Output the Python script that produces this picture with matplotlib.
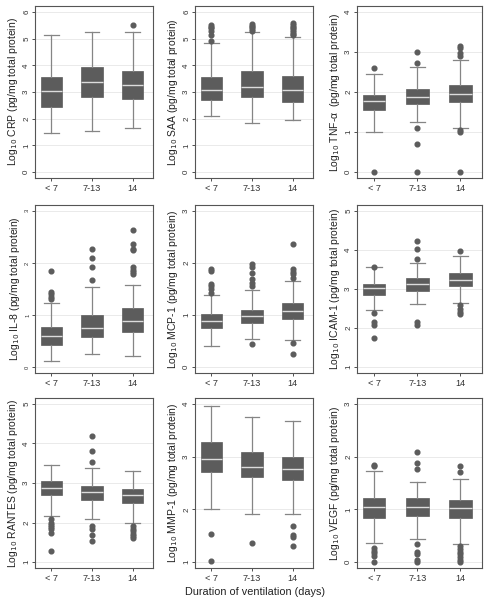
import matplotlib
matplotlib.use("Agg")
import matplotlib.pyplot as plt

# groups on the x axis
groups = ["< 7", "7-13", "14"]

# box stats per group: [whisker low, q1, median, q3, whisker high]
crp_box = [[1.48, 2.44, 3.03, 3.58, 5.12], [1.54, 2.82, 3.39, 3.92, 5.23], [1.64, 2.72, 3.26, 3.77, 5.23]]
crp_out = [[], [], [5.52]]

saa_box = [[2.11, 2.70, 3.06, 3.55, 4.83], [1.82, 2.82, 3.18, 3.79, 5.23], [1.95, 2.64, 3.06, 3.60, 5.06]]
saa_out = [[4.90, 5.12, 5.30, 5.38, 5.45, 5.52],
           [5.28, 5.35, 5.42, 5.48, 5.53],
           [5.12, 5.18, 5.25, 5.32, 5.38, 5.45, 5.52, 5.58]]

tnf_box = [[1.00, 1.56, 1.77, 1.93, 2.44], [1.24, 1.70, 1.87, 2.08, 2.62], [1.10, 1.75, 1.94, 2.18, 2.79]]
tnf_out = [[0.0, 2.59], [0.0, 0.71, 1.09, 2.72, 3.00], [0.0, 1.00, 1.06, 2.90, 2.97, 3.10, 3.15]]

il8_box = [[0.11, 0.43, 0.59, 0.78, 1.23], [0.25, 0.57, 0.75, 1.00, 1.54], [0.21, 0.67, 0.89, 1.13, 1.58]]
il8_out = [[1.30, 1.35, 1.40, 1.44, 1.84],
           [1.67, 1.93, 2.10, 2.27],
           [1.78, 1.82, 1.87, 1.93, 2.24, 2.27, 2.36, 2.64]]

mcp_box = [[0.41, 0.75, 0.88, 1.02, 1.38], [0.54, 0.84, 0.98, 1.10, 1.49], [0.53, 0.93, 1.07, 1.23, 1.65]]
mcp_out = [[1.43, 1.50, 1.55, 1.60, 1.84, 1.88],
           [0.45, 1.55, 1.62, 1.70, 1.80, 1.93, 1.97],
           [0.25, 0.47, 1.72, 1.78, 1.82, 1.88, 2.36]]

icam_box = [[2.46, 2.84, 3.03, 3.13, 3.55], [2.61, 2.96, 3.13, 3.28, 3.66], [2.65, 3.08, 3.22, 3.40, 3.84]]
icam_out = [[1.75, 2.08, 2.16, 2.39, 3.57], [2.08, 2.16, 3.76, 4.02, 4.24], [2.36, 2.42, 2.50, 2.60, 3.97]]

rantes_box = [[2.16, 2.69, 2.87, 3.04, 3.45], [2.10, 2.57, 2.78, 2.93, 3.37], [1.99, 2.50, 2.69, 2.85, 3.31]]
rantes_out = [[1.28, 1.73, 1.85, 1.90, 1.95, 2.00, 2.10],
              [1.53, 1.69, 1.84, 1.92, 3.54, 3.81, 4.20],
              [1.60, 1.65, 1.70, 1.78, 1.85, 1.92]]

mmp_box = [[2.01, 2.70, 2.95, 3.27, 3.96], [1.91, 2.61, 2.81, 3.08, 3.76], [1.91, 2.55, 2.77, 2.99, 3.67]]
mmp_out = [[1.03, 1.54], [1.37], [1.30, 1.47, 1.51, 1.69]]

vegf_box = [[0.37, 0.83, 1.04, 1.22, 1.72], [0.43, 0.87, 1.05, 1.22, 1.52], [0.35, 0.84, 1.03, 1.17, 1.58]]
vegf_out = [[0.0, 0.11, 0.17, 0.22, 0.27, 1.83, 1.85],
            [0.0, 0.05, 0.16, 0.20, 0.35, 1.77, 1.88, 2.09],
            [0.0, 0.05, 0.10, 0.15, 0.20, 0.25, 0.30, 1.71, 1.83]]

# one entry per panel: (box stats, outliers, marker name, y tick range)
panels = [
    (crp_box, crp_out, "CRP", (0, 6)),
    (saa_box, saa_out, "SAA", (0, 6)),
    (tnf_box, tnf_out, "TNF-\u03b1 ", (0, 4)),
    (il8_box, il8_out, "IL-8", (0, 3)),
    (mcp_box, mcp_out, "MCP-1", (0, 3)),
    (icam_box, icam_out, "ICAM-1", (1, 5)),
    (rantes_box, rantes_out, "RANTES", (1, 5)),
    (mmp_box, mmp_out, "MMP-1", (1, 4)),
    (vegf_box, vegf_out, "VEGF", (0, 3)),
]

plt.rcParams['font.family'] = ['Liberation Sans', 'DejaVu Sans']

W, H = 487, 599
fig = plt.figure(figsize=(W / 100, H / 100), dpi=100)

# pixel frames of the columns and rows
cols = [(35, 153), (195, 313), (357, 482)]
rows = [(6, 178), (205, 373), (398, 568)]

box_col = "#5c5c5c"
line_col = "#858585"

for i, (box, out, name, (lo, hi)) in enumerate(panels):
    x0, x1 = cols[i % 3]
    y0, y1 = rows[i // 3]
    ax = fig.add_axes([x0 / W, 1 - y1 / H, (x1 - x0) / W, (y1 - y0) / H])

    stats = []
    for g, b, o in zip(groups, box, out):
        stats.append(dict(label=g, whislo=b[0], q1=b[1], med=b[2], q3=b[3], whishi=b[4], fliers=o))

    ax.bxp(stats, positions=[1, 2, 3], widths=0.52, patch_artist=True,
           showfliers=True, capwidths=0.36,
           boxprops=dict(facecolor=box_col, edgecolor=box_col, linewidth=0.5),
           medianprops=dict(color="#dcdcdc", linewidth=1.0),
           whiskerprops=dict(color=line_col, linewidth=0.9),
           capprops=dict(color=line_col, linewidth=0.9),
           flierprops=dict(marker="o", markersize=3.4, markerfacecolor=box_col,
                           markeredgecolor=box_col, linestyle="none"))

    m = (hi - lo) * 0.037
    ax.set_ylim(lo - m, hi + m)
    ax.set_xlim(0.6, 3.5)
    ax.set_yticks(range(lo, hi + 1))
    ax.yaxis.grid(True, color="#e6e6e6", linewidth=0.6)
    ax.set_axisbelow(True)

    ysize = 4.2 if name == "IL-8" else 5.8
    ax.tick_params(axis="y", labelsize=ysize, rotation=90, length=2, width=0.6, pad=1.5, colors="#333333")
    ax.tick_params(axis="x", labelsize=6.6, length=2, width=0.6, pad=2.5, colors="#333333")
    for lab in ax.get_yticklabels():
        lab.set_va("center")
    for sp in ax.spines.values():
        sp.set_color("#555555")
        sp.set_linewidth(0.8)

    ax.set_ylabel("Log$_{10}$ " + name + " (pg/mg total protein)", fontsize=7.5,
                  color="#222222", labelpad=2)

fig.text(255 / W, 1 - 592 / H, "Duration of ventilation (days)", ha="center", va="center",
         fontsize=7.8, color="#222222")

fig.savefig("out.png", dpi=100)
